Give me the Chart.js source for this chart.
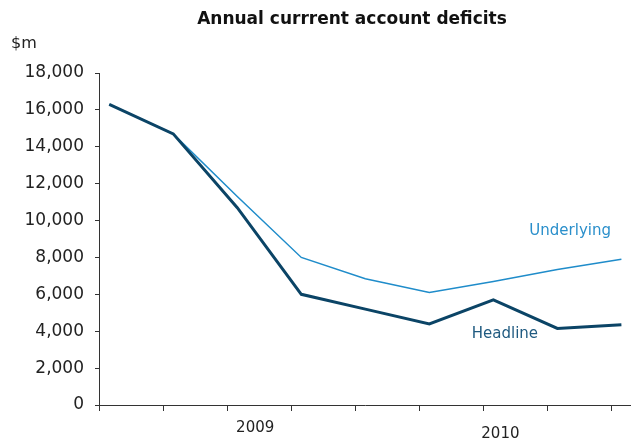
<!DOCTYPE html>
<html>
<head>
<meta charset="utf-8">
<script src="https://cdn.jsdelivr.net/npm/chart.js@4/dist/chart.umd.min.js"></script>
<style>
  html, body { margin: 0; padding: 0; background: #fff; }
  #wrap { width: 631px; height: 438px; }
</style>
</head>
<body>
<div id="wrap"><canvas id="chart" width="631" height="438"></canvas></div>
<script>
// Quarterly series, $m
const headline = [16300, 14700, 10700, 6000, 5200, 4400, 5700, 4150, 4350];
const underlying = [16300, 14700, 11300, 8000, 6850, 6100, 6700, 7350, 7900];
const yearLabels = ["2009", "2010"];
const yTicks = [0, 2000, 4000, 6000, 8000, 10000, 12000, 14000, 16000, 18000];
const xTicks = [0, 1, 2, 3, 4, 5, 6, 7, 8];

const FONT = "'DejaVu Sans', Verdana, sans-serif";

// points sit a little after each quarter tick
const toPoints = (vals) => vals.map((v, i) => ({ x: i + 0.16, y: v }));

// Title, unit and annotations drawn in the same scale space
const textPlugin = {
  id: "texts",
  afterDraw(chart) {
    const { ctx, scales } = chart;
    const x = scales.x, y = scales.y;
    ctx.save();
    ctx.textBaseline = "middle";

    ctx.fillStyle = "#111";
    ctx.font = "bold 17px " + FONT;
    ctx.textAlign = "center";
    ctx.fillText("Annual currrent account deficits", 352, 20);

    ctx.font = "16px " + FONT;
    ctx.textAlign = "left";
    ctx.fillStyle = "#222";
    ctx.fillText("$m", 11, 44);

    ctx.textAlign = "center";
    ctx.font = "15px " + FONT;
    ctx.fillText(yearLabels[0], x.getPixelForValue(2.44), y.bottom + 23);
    ctx.fillText(yearLabels[1], x.getPixelForValue(6.27), y.bottom + 29);

    ctx.fillStyle = "#2a8fcb";
    ctx.fillText("Underlying", x.getPixelForValue(7.36), y.getPixelForValue(9430));
    ctx.fillStyle = "#1f5a80";
    ctx.fillText("Headline", x.getPixelForValue(6.34), y.getPixelForValue(3850));
    ctx.restore();
  },
};

new Chart(document.getElementById("chart"), {
  type: "line",
  data: {
    datasets: [
      {
        label: "Headline",
        data: toPoints(headline),
        borderColor: "#0b4466",
        borderWidth: 3,
        pointRadius: 0,
        tension: 0,
      },
      {
        label: "Underlying",
        data: toPoints(underlying),
        borderColor: "#1f8cca",
        borderWidth: 1.5,
        pointRadius: 0,
        tension: 0,
      },
    ],
  },
  options: {
    responsive: false,
    animation: false,
    layout: { padding: { top: 73, right: 0, left: 0, bottom: 0 } },
    plugins: {
      legend: { display: false },
      title: { display: false },
      tooltip: { enabled: false },
    },
    scales: {
      x: {
        type: "linear",
        min: 0,
        max: 8.31,
        afterBuildTicks: (scale) => {
          scale.ticks = xTicks.map((v) => ({ value: v }));
        },
        afterFit: (scale) => {
          scale.height = 33;
        },
        ticks: { callback: () => "", font: { size: 1 } },
        grid: {
          drawOnChartArea: false,
          drawTicks: true,
          tickLength: 6,
          color: "#333",
        },
        border: { color: "#333", width: 1 },
      },
      y: {
        min: 0,
        max: 18000,
        afterBuildTicks: (scale) => {
          scale.ticks = yTicks.map((v) => ({ value: v }));
        },
        afterFit: (scale) => {
          scale.width = 99;
        },
        ticks: {
          padding: 11,
          color: "#222",
          font: { family: FONT, size: 17 },
          callback: (v) => v.toLocaleString("en-US"),
        },
        grid: {
          drawOnChartArea: false,
          drawTicks: true,
          tickLength: 4,
          color: "#333",
        },
        border: { color: "#333", width: 1 },
      },
    },
  },
  plugins: [textPlugin],
});
</script>
</body>
</html>
